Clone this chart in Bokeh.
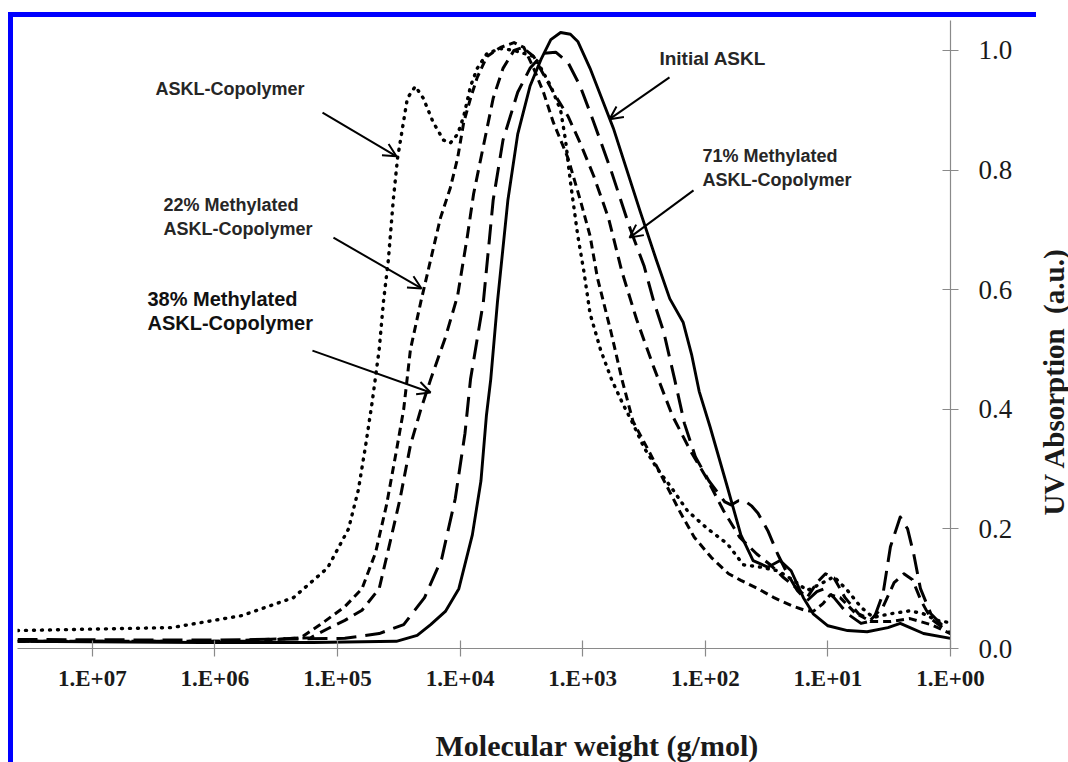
import numpy as np
from bokeh.plotting import figure
from bokeh.layouts import row
from bokeh.models import (Range1d, FixedTicker, Label, Arrow, OpenHead, Title,
                          CustomJSTickFormatter)
from bokeh.embed import file_html
from bokeh.resources import INLINE

# ---------------- data (log10 of molecular weight, UV absorption) ----------------
initial_logmw = [7.61, 6.12, 5.20, 4.52, 4.35, 4.24, 4.12, 4.01, 3.90, 3.83,
                 3.785, 3.75, 3.695, 3.61, 3.53, 3.43, 3.34, 3.26, 3.18, 3.10,
                 3.04, 2.94, 2.75, 2.53, 2.40, 2.29, 2.18, 2.11, 2.05, 1.96,
                 1.82, 1.71, 1.61, 1.49, 1.39, 1.30, 1.20, 1.12, 1.00, 0.84,
                 0.68, 0.51, 0.41, 0.33, 0.22, 0.00]
initial_uv = [0.012, 0.010, 0.010, 0.012, 0.022, 0.040, 0.062, 0.100, 0.190, 0.280,
              0.390, 0.450, 0.580, 0.750, 0.860, 0.940, 0.985, 1.018, 1.030, 1.027,
              1.015, 0.970, 0.870, 0.730, 0.650, 0.585, 0.545, 0.490, 0.430, 0.370,
              0.270, 0.190, 0.147, 0.136, 0.147, 0.130, 0.085, 0.058, 0.038, 0.030,
              0.028, 0.035, 0.042, 0.035, 0.025, 0.017]

m71_logmw = [7.61, 6.00, 4.94, 4.66, 4.46, 4.29, 4.15, 4.04, 3.96, 3.915,
             3.81, 3.73, 3.65, 3.53, 3.43, 3.32, 3.22, 3.12, 3.02, 2.91,
             2.77, 2.61, 2.50, 2.42, 2.34, 2.25, 2.17, 2.08, 1.97, 1.84,
             1.79, 1.73, 1.68, 1.62, 1.57, 1.49, 1.41, 1.33, 1.25, 1.17,
             1.09, 1.03, 0.95, 0.84, 0.73, 0.63, 0.55, 0.49, 0.41, 0.35,
             0.30, 0.245, 0.16, 0.00]
m71_uv = [0.015, 0.014, 0.017, 0.025, 0.040, 0.085, 0.150, 0.250, 0.360, 0.450,
          0.580, 0.750, 0.850, 0.930, 0.970, 0.995, 0.997, 0.980, 0.940, 0.880,
          0.800, 0.700, 0.640, 0.580, 0.530, 0.450, 0.376, 0.320, 0.280, 0.245,
          0.240, 0.247, 0.247, 0.238, 0.226, 0.197, 0.158, 0.125, 0.097, 0.080,
          0.095, 0.100, 0.085, 0.058, 0.042, 0.047, 0.092, 0.170, 0.220, 0.200,
          0.158, 0.100, 0.058, 0.025]

m38_logmw = [7.61, 6.00, 5.22, 5.08, 4.94, 4.80, 4.66, 4.58, 4.49, 4.405,
             4.32, 4.24, 4.12, 4.02, 3.94, 3.89, 3.81, 3.73, 3.65, 3.56,
             3.49, 3.40, 3.24, 3.12, 3.02, 2.91, 2.79, 2.68, 2.56, 2.42,
             2.27, 2.12, 1.99, 1.85, 1.72, 1.58, 1.47, 1.37, 1.25, 1.17,
             1.09, 1.02, 0.95, 0.86, 0.75, 0.65, 0.55, 0.46, 0.38, 0.31,
             0.24, 0.16, 0.00]
m38_uv = [0.012, 0.012, 0.018, 0.033, 0.047, 0.064, 0.100, 0.170, 0.250, 0.340,
          0.400, 0.450, 0.520, 0.590, 0.690, 0.760, 0.840, 0.920, 0.970, 1.000,
          1.005, 0.990, 0.930, 0.890, 0.845, 0.790, 0.720, 0.630, 0.550, 0.470,
          0.390, 0.330, 0.285, 0.230, 0.186, 0.158, 0.140, 0.120, 0.100, 0.085,
          0.110, 0.125, 0.118, 0.085, 0.058, 0.048, 0.070, 0.110, 0.125, 0.115,
          0.080, 0.050, 0.025]

m22_logmw = [7.61, 5.71, 5.30, 5.14, 4.94, 4.80, 4.69, 4.60, 4.52, 4.46,
             4.405, 4.32, 4.24, 4.16, 4.08, 4.02, 3.97, 3.915, 3.86, 3.78,
             3.67, 3.56, 3.48, 3.40, 3.32, 3.24, 3.12, 3.02, 2.94, 2.88,
             2.77, 2.68, 2.59, 2.45, 2.31, 2.20, 2.09, 1.95, 1.81, 1.71,
             1.57, 1.44, 1.30, 1.19, 1.12, 1.04, 0.98, 0.90, 0.78, 0.65,
             0.49, 0.33, 0.16, 0.00]
m22_uv = [0.012, 0.012, 0.018, 0.040, 0.070, 0.100, 0.160, 0.240, 0.330, 0.400,
          0.500, 0.580, 0.650, 0.720, 0.770, 0.820, 0.880, 0.920, 0.955, 0.990,
          1.005, 1.013, 1.005, 0.970, 0.930, 0.880, 0.820, 0.750, 0.690, 0.620,
          0.530, 0.450, 0.380, 0.326, 0.270, 0.226, 0.186, 0.152, 0.125, 0.114,
          0.100, 0.085, 0.072, 0.064, 0.062, 0.075, 0.090, 0.085, 0.060, 0.045,
          0.045, 0.050, 0.040, 0.025]

copoly_logmw = [7.61, 6.35, 5.78, 5.36, 5.08, 4.91, 4.83, 4.77, 4.715, 4.66,
                4.625, 4.585, 4.545, 4.51, 4.47, 4.43, 4.365, 4.30, 4.22, 4.135,
                4.08, 4.02, 3.97, 3.915, 3.86, 3.78, 3.67, 3.56, 3.40, 3.34,
                3.26, 3.18, 3.14, 3.10, 3.04, 2.99, 2.94, 2.855, 2.765, 2.675,
                2.59, 2.50, 2.39, 2.28, 2.145, 1.98, 1.82, 1.69, 1.55, 1.41,
                1.28, 1.17, 1.06, 0.95, 0.84, 0.73, 0.63, 0.49, 0.33, 0.22,
                0.11, 0.00]
copoly_uv = [0.030, 0.035, 0.055, 0.085, 0.135, 0.200, 0.265, 0.340, 0.415, 0.500,
             0.580, 0.650, 0.750, 0.820, 0.870, 0.920, 0.940, 0.920, 0.880, 0.850,
             0.845, 0.860, 0.890, 0.940, 0.970, 0.995, 1.003, 1.000, 0.990, 0.970,
             0.940, 0.900, 0.850, 0.780, 0.690, 0.630, 0.560, 0.500, 0.450, 0.410,
             0.376, 0.336, 0.300, 0.270, 0.230, 0.200, 0.175, 0.140, 0.136, 0.130,
             0.114, 0.097, 0.108, 0.120, 0.097, 0.069, 0.052, 0.058, 0.063, 0.058,
             0.047, 0.043]

x_tick_vals = [1e7, 1e6, 1e5, 1e4, 1e3, 1e2, 1e1, 1e0]
x_tick_labels = ["1.E+07", "1.E+06", "1.E+05", "1.E+04", "1.E+03", "1.E+02", "1.E+01", "1.E+00"]
y_tick_vals = [0.0, 0.2, 0.4, 0.6, 0.8, 1.0]
y_tick_labels = ["0.0", "0.2", "0.4", "0.6", "0.8", "1.0"]
x_title = "Molecular weight (g/mol)"
y_title = "UV Absorption\u00a0 (a.u.)"

# ---------------- main figure ----------------
p = figure(width=1036, height=762, x_axis_type="log", y_axis_location="right",
           x_range=Range1d(10 ** 7.61, 1.0), y_range=Range1d(0, 1.05),
           output_backend="svg", toolbar_location=None,
           min_border_left=17, min_border_right=86, min_border_top=20, min_border_bottom=114)
p.grid.visible = False
p.outline_line_color = None
p.background_fill_color = "white"
p.border_fill_color = None
# blue picture frame on the left and top edges
p.styles = {"box-shadow": "inset 8px 12px 0 0 #ffffff, inset 13px 17px 0 0 #0000ff",
            "background-color": "#ffffff"}

series = [
    (initial_logmw, initial_uv, "solid", 2.9, "butt"),
    (m71_logmw, m71_uv, "20 9", 3.0, "butt"),
    (m38_logmw, m38_uv, "12 7", 3.0, "butt"),
    (m22_logmw, m22_uv, "8 5", 3.0, "butt"),
    (copoly_logmw, copoly_uv, "1 7", 3.4, "round"),
]
for lx, uy, dash, lw, cap in series:
    p.line(10 ** np.array(lx), uy, line_color="black", line_width=lw,
           line_dash=dash, line_cap=cap, line_join="round")

# axes
ax = p.xaxis[0]
ax.ticker = FixedTicker(ticks=x_tick_vals, minor_ticks=[])
ax.formatter = CustomJSTickFormatter(args=dict(vals=x_tick_vals, labs=x_tick_labels), code="""
const lt = Math.log10(tick);
for (let i = 0; i < vals.length; i++) {
  if (Math.abs(Math.log10(vals[i]) - lt) < 1e-6) return labs[i];
}
return "";
""")
ay = p.yaxis[0]
ay.ticker = FixedTicker(ticks=y_tick_vals, minor_ticks=[])
ay.major_label_overrides = {v: s for v, s in zip(y_tick_vals, y_tick_labels)}

for a in (ax, ay):
    a.axis_line_color = "#8a8a8a"
    a.axis_line_width = 1.2
    a.major_tick_line_color = "#8a8a8a"
    a.major_tick_line_width = 1.2
    a.major_tick_in = 8
    a.major_tick_out = 8
    a.minor_tick_line_color = None
    a.major_label_text_font = "Liberation Serif"
    a.major_label_text_color = "#1a1a1a"

ax.major_label_text_font_style = "bold"
ax.major_label_text_font_size = "23px"
ax.major_label_standoff = 9
ay.major_label_text_font_style = "normal"
ay.major_label_text_font_size = "27px"
ay.major_label_standoff = 20

# spacer so that the x title sits near the bottom edge
ax.axis_label = "\u00a0"
ax.axis_label_text_font_size = "2px"
ax.axis_label_standoff = 28

# x title
p.add_layout(Title(text=x_title, align="left", offset=418, standoff=0,
                   vertical_align="bottom",
                   text_font="Liberation Serif", text_font_style="bold",
                   text_font_size="30px", text_color="#1a1a1a"), "below")

# annotations
def note(logx, y, txt, size="18px", color="#262626"):
    p.add_layout(Label(x=10 ** logx, y=y, text=txt, text_font="Liberation Sans",
                       text_font_style="bold", text_font_size=size, text_color=color,
                       text_align="left", text_baseline="middle"))

note(6.484, 0.936, "ASKL-Copolymer")
note(6.419, 0.741, "22% Methylated")
note(6.419, 0.702, "ASKL-Copolymer")
note(6.550, 0.585, "38% Methylated", "20px", "#111111")
note(6.550, 0.545, "ASKL-Copolymer", "20px", "#111111")
note(2.374, 0.987, "Initial ASKL", "19px")
note(2.023, 0.824, "71% Methylated")
note(2.023, 0.783, "ASKL-Copolymer")

def arrow(lx0, y0, lx1, y1):
    p.add_layout(Arrow(end=OpenHead(size=13, line_width=2, line_color="black"),
                       x_start=10 ** lx0, y_start=y0, x_end=10 ** lx1, y_end=y1,
                       line_width=2, line_color="black"))

arrow(5.122, 0.896, 4.519, 0.823)
arrow(5.033, 0.687, 4.315, 0.602)
arrow(5.204, 0.498, 4.241, 0.428)
arrow(2.292, 0.955, 2.781, 0.885)
arrow(2.096, 0.766, 2.618, 0.687)

# ---------------- narrow strip holding the y-axis title ----------------
q = figure(width=32, height=762, x_range=Range1d(0, 32), y_range=Range1d(0, 762),
           x_axis_location=None, y_axis_location=None,
           output_backend="svg", toolbar_location=None,
           min_border_left=0, min_border_right=0, min_border_top=0, min_border_bottom=0)
q.grid.visible = False
q.outline_line_color = None
q.background_fill_color = "white"
q.border_fill_color = "white"
q.add_layout(Label(x=17, y=324, text=y_title, angle=np.pi / 2,
                   text_font="Liberation Serif", text_font_style="bold",
                   text_font_size="29px", text_color="#1a1a1a",
                   text_align="center", text_baseline="middle"))

layout = row(p, q, spacing=0)
open("out.html", "w").write(file_html(layout, INLINE))
